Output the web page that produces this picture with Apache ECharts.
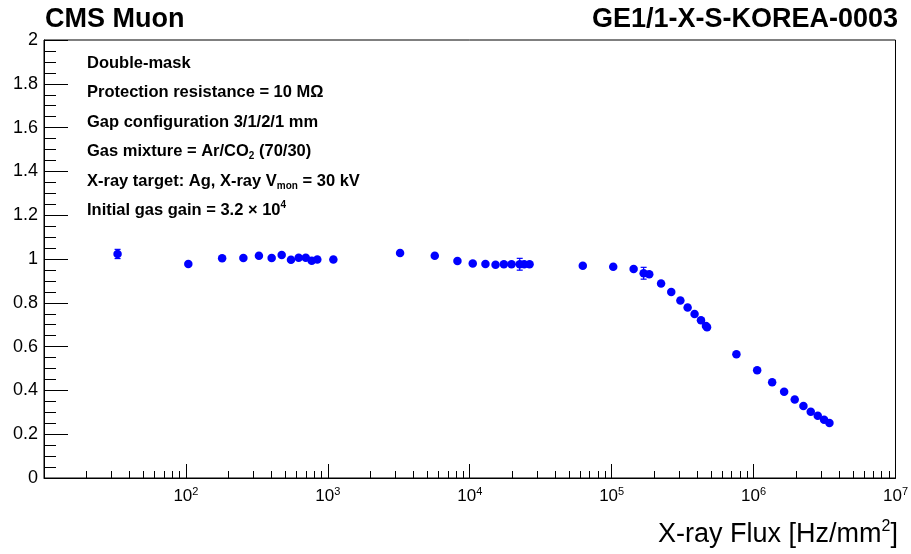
<!DOCTYPE html>
<html>
<head>
<meta charset="utf-8">
<script src="https://cdn.jsdelivr.net/npm/echarts@6/dist/echarts.min.js"></script>
<style>
  html, body { margin: 0; padding: 0; background: #fff; }
  #chart { width: 911px; height: 554px; }
</style>
</head>
<body>
<div id="chart"></div>
<script>
// measured points (flux in Hz/mm2, normalised gain)
const flux = [33, 104, 180, 254, 327, 402, 473, 550, 623, 699, 770, 843, 1094,
  3230, 5670, 8190, 10500, 12900, 15200, 17400, 19700, 22500, 24200, 26400,
  62600, 102600, 142800, 168000, 184000, 223000, 263000, 305000, 343000, 384000,
  426000, 462000, 470000, 757000, 1060000, 1352000, 1642000, 1950000, 2245000,
  2529000, 2833000, 3140000, 3425000]
const gain = [1.023, 0.977, 1.003, 1.005, 1.015, 1.005, 1.018, 0.997, 1.006, 1.006, 0.992, 0.998, 0.998,
  1.027, 1.015, 0.991, 0.979, 0.977, 0.974, 0.976, 0.976, 0.976, 0.976, 0.976,
  0.969, 0.965, 0.954, 0.935, 0.930, 0.888, 0.849, 0.811, 0.778, 0.749,
  0.720, 0.694, 0.688, 0.565, 0.492, 0.437, 0.394, 0.358, 0.329,
  0.303, 0.284, 0.266, 0.251]

// the few points whose error bars stick out of the marker
const errFlux = [33, 22500, 168000]
const errGain = [1.023, 0.976, 0.935]
const errX = [0, 1800, 8000]
const errY = [0.021, 0.027, 0.027]

const majorX = [10, 100, 1e3, 1e4, 1e5, 1e6, 1e7]
const labelX = [100, 1e3, 1e4, 1e5, 1e6, 1e7]
const minorMult = [2, 3, 4, 5, 6, 7, 8, 9]
const minorX = []
majorX.slice(0, -1).forEach(d => minorMult.forEach(m => minorX.push(d * m)))

const infoLines = [
  'Double-mask',
  'Protection resistance = 10 MΩ',
  'Gap configuration 3/1/2/1 mm',
  'Gas mixture = Ar/CO{sub|2} (70/30)',
  'X-ray target: Ag, X-ray V{sub|mon} = 30 kV',
  'Initial gas gain = 3.2 × 10{sup|4}'
]

const FONT = 'Liberation Sans, Arial, Helvetica, sans-serif'
const BLUE = '#0000ff'

const chart = echarts.init(document.getElementById('chart'))

const xBase = {
  type: 'log',
  logBase: 10,
  min: 10,
  max: 1e7,
  position: 'bottom',
  gridIndex: 0,
  splitLine: { show: false }
}

const option = {
  animation: false,
  backgroundColor: '#fff',
  title: [
    {
      text: 'CMS Muon',
      left: 45, top: 6, padding: 0,
      textStyle: { fontFamily: FONT, fontWeight: 'bold', fontSize: 27, color: '#000' }
    },
    {
      text: 'GE1/1-X-S-KOREA-0003',
      right: 13, top: 6, padding: 0,
      textStyle: { fontFamily: FONT, fontWeight: 'bold', fontSize: 27, color: '#000' }
    },
    {
      text: 'X-ray Flux [Hz/mm{s|2}]',
      right: 13, top: 519, padding: 0,
      textStyle: {
        fontFamily: FONT, fontWeight: 'normal', fontSize: 27, color: '#000', lineHeight: 32,
        rich: { s: { fontFamily: FONT, fontWeight: 'normal', fontSize: 16, lineHeight: 14, verticalAlign: 'top', color: '#000' } }
      }
    }
  ],
  grid: {
    left: 44, right: 12, top: 40, bottom: 76,
    show: true, borderColor: '#000', borderWidth: 1, backgroundColor: '#fff'
  },
  xAxis: [
    Object.assign({}, xBase, {
      axisLine: { lineStyle: { color: '#000', width: 1 } },
      axisTick: { inside: true, length: 14, lineStyle: { color: '#000' }, customValues: majorX },
      axisLabel: {
        customValues: labelX,
        margin: 8,
        formatter: v => '{b|10}{s|' + Math.round(Math.log10(v)) + '}',
        rich: {
          b: { fontFamily: FONT, fontSize: 17, lineHeight: 20, color: '#000' },
          s: { fontFamily: FONT, fontSize: 11, lineHeight: 10, verticalAlign: 'top', color: '#000' }
        }
      }
    }),
    Object.assign({}, xBase, {
      axisLine: { show: false },
      axisTick: { inside: true, length: 7, lineStyle: { color: '#000' }, customValues: minorX },
      axisLabel: { show: false }
    })
  ],
  yAxis: {
    type: 'value',
    min: 0,
    max: 2,
    interval: 0.2,
    splitLine: { show: false },
    axisLine: { show: true, lineStyle: { color: '#000', width: 1 } },
    axisTick: { inside: true, length: 24, lineStyle: { color: '#000' } },
    minorTick: { show: true, splitNumber: 4, length: 12, lineStyle: { color: '#000' } },
    axisLabel: { fontFamily: FONT, fontSize: 18, color: '#000', margin: 6 }
  },
  graphic: infoLines.map((t, i) => ({
    type: 'text',
    left: 87,
    top: 53 + i * 29.5,
    style: {
      text: t,
      fontFamily: FONT,
      fontWeight: 'bold',
      fontSize: 16.5,
      lineHeight: 20,
      fill: '#000',
      rich: {
        sub: { fontFamily: FONT, fontWeight: 'bold', fontSize: 10, lineHeight: 8, verticalAlign: 'bottom', fill: '#000' },
        sup: { fontFamily: FONT, fontWeight: 'bold', fontSize: 10, lineHeight: 8, verticalAlign: 'top', fill: '#000' }
      }
    }
  })),
  series: [
    {
      type: 'custom',
      xAxisIndex: 0,
      data: errFlux.map((f, i) => [f, errGain[i], errX[i], errY[i]]),
      encode: { x: 0, y: 1 },
      z: 3,
      renderItem: (params, api) => {
        const x = api.value(0), y = api.value(1), ex = api.value(2), ey = api.value(3)
        const c = api.coord([x, y])
        const style = { stroke: BLUE, lineWidth: 1.2 }
        const kids = []
        if (ey > 0) {
          const t = api.coord([x, y + ey]), b = api.coord([x, y - ey])
          kids.push({ type: 'line', shape: { x1: c[0], y1: t[1], x2: c[0], y2: b[1] }, style })
          kids.push({ type: 'line', shape: { x1: c[0] - 3, y1: t[1], x2: c[0] + 3, y2: t[1] }, style })
          kids.push({ type: 'line', shape: { x1: c[0] - 3, y1: b[1], x2: c[0] + 3, y2: b[1] }, style })
        }
        if (ex > 0) {
          const l = api.coord([x - ex, y]), r = api.coord([x + ex, y])
          kids.push({ type: 'line', shape: { x1: l[0], y1: c[1], x2: r[0], y2: c[1] }, style })
        }
        return { type: 'group', children: kids }
      }
    },
    {
      type: 'scatter',
      xAxisIndex: 0,
      symbol: 'circle',
      symbolSize: 8.5,
      itemStyle: { color: BLUE, opacity: 1 },
      z: 4,
      data: flux.map((f, i) => [f, gain[i]])
    }
  ]
}

chart.setOption(option)
</script>
</body>
</html>
